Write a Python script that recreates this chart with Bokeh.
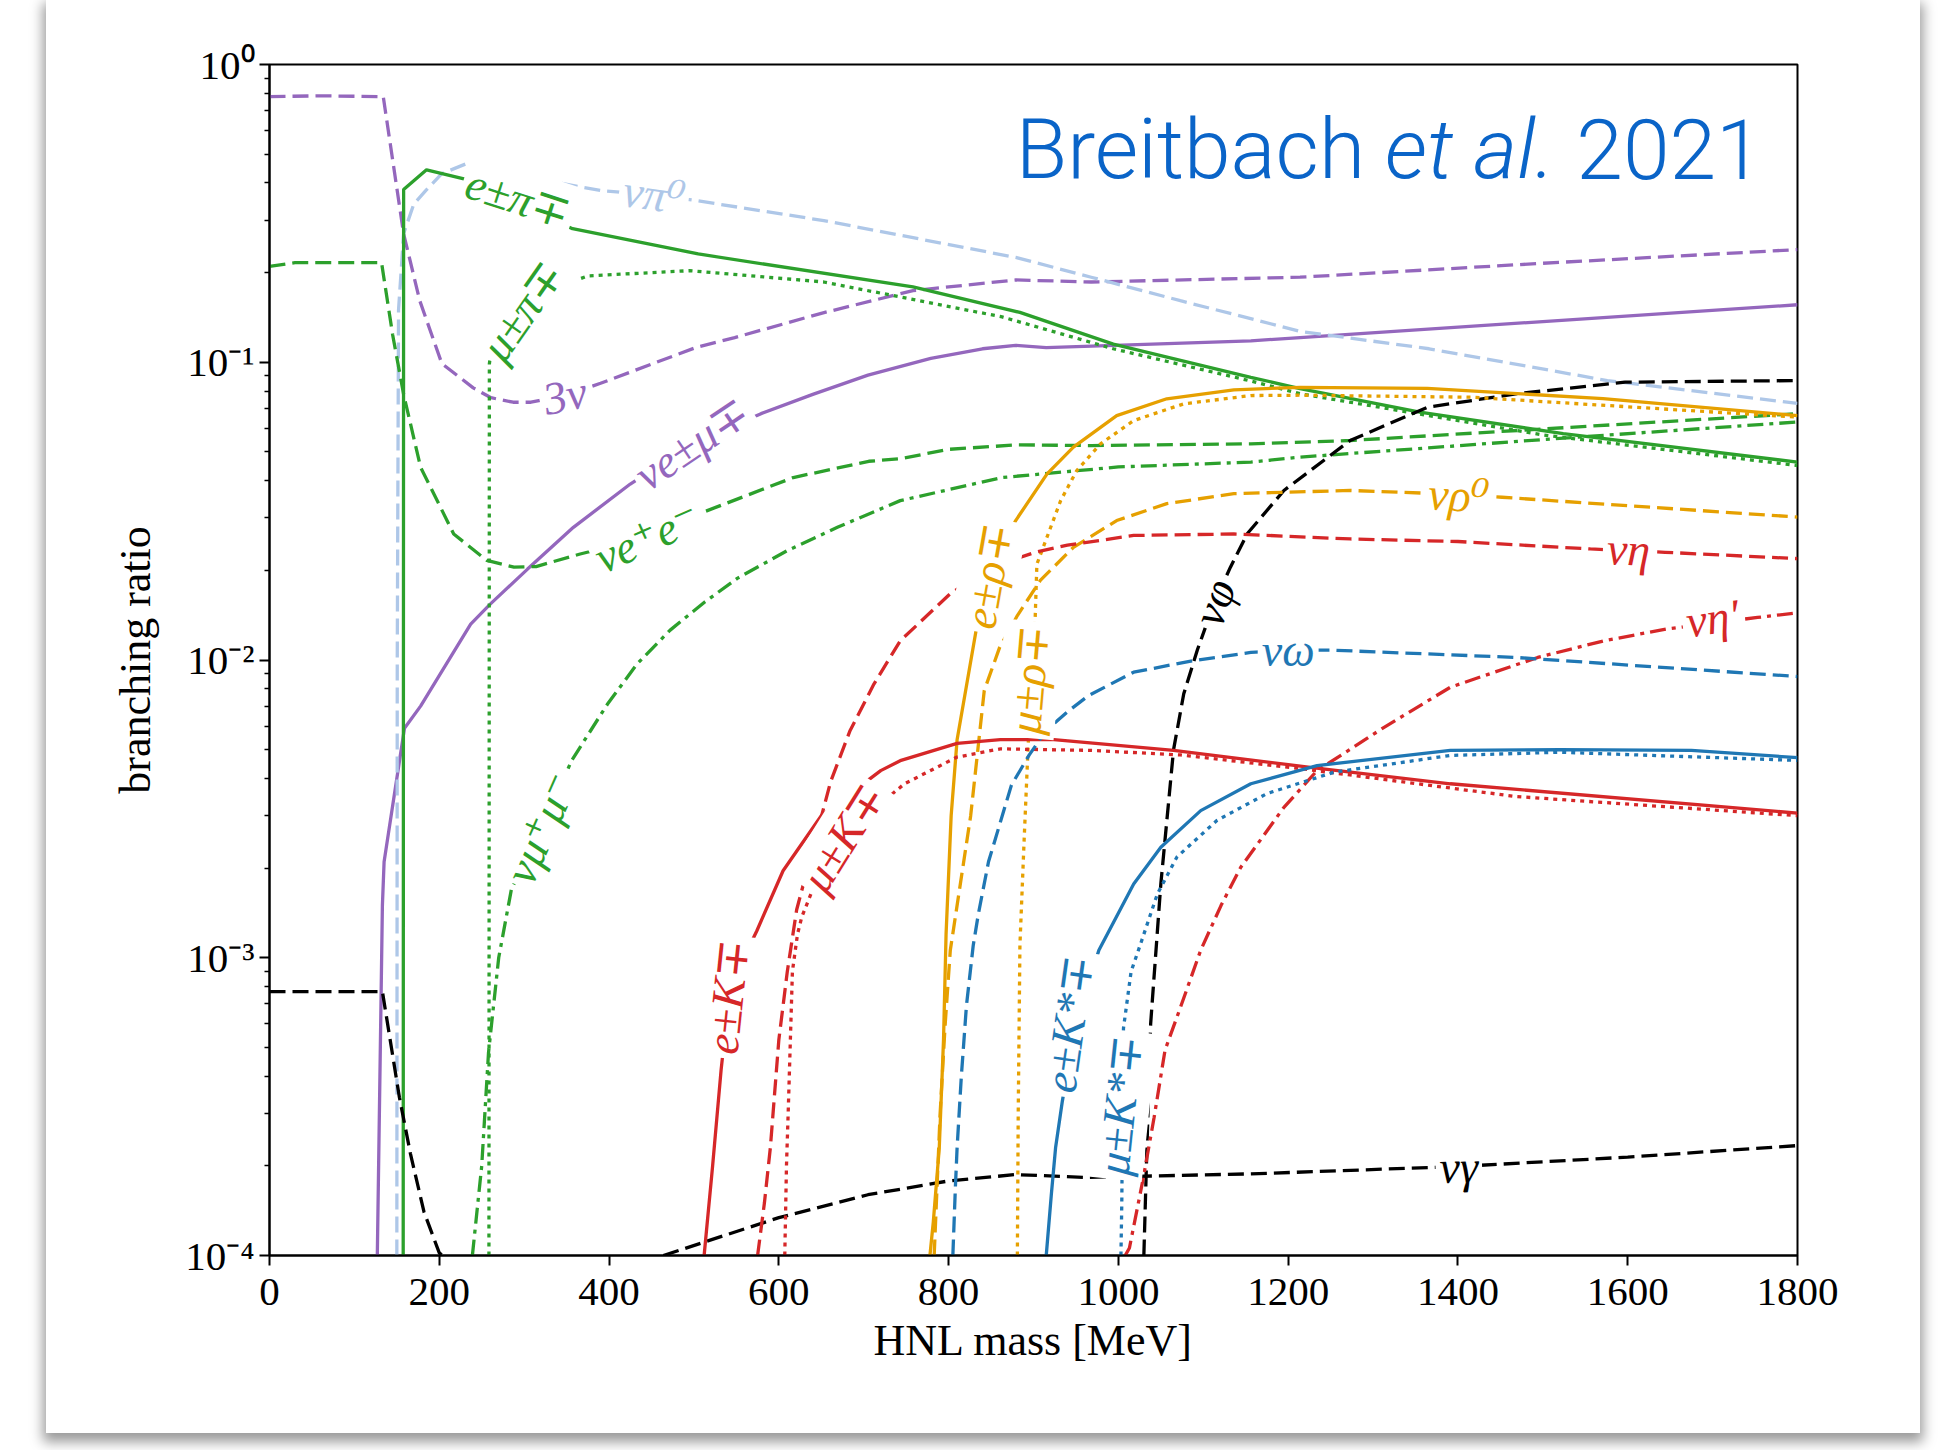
import math
from bokeh.plotting import figure
from bokeh.models import Label, FixedTicker, CustomJSTickFormatter, Range1d
from bokeh.embed import file_html
from bokeh.resources import INLINE

NAN = float("nan")

# ---------------- data (HNL mass [MeV], branching ratio) ----------------
x_3nu = [0, 60, 134, 158, 177, 203, 240, 261, 287, 308, 348, 390, 502, 548, 650, 758, 879, 968, 1214, 1500, 1800]
y_3nu = [0.78, 0.785, 0.78, 0.27, 0.161, 0.099, 0.082, 0.076, 0.0734, 0.0734, 0.0773, 0.085, 0.112, 0.121, 0.146, 0.174, 0.189, 0.186, 0.193, 0.215, 0.239]

x_emu = [127, 133, 135, 159, 178, 237, 260, 304, 358, 425, 498, 579, 640, 705, 779, 840, 879, 915, 1156, 1214, 1500, 1800]
y_emu = [1e-4, 0.0015, 0.0021, 0.0059, 0.0070, 0.0132, 0.0154, 0.0202, 0.0279, 0.039, 0.0533, 0.0672, 0.078, 0.0905, 0.103, 0.111, 0.114, 0.112, 0.118, 0.121, 0.137, 0.156]

x_epi = [157.5, 158, 185, 229, 293, 357, 505, 758, 884, 994, 1156, 1214, 1355, 1524, 1800]
y_epi = [1e-4, 0.38, 0.443, 0.413, 0.34, 0.281, 0.231, 0.179, 0.147, 0.115, 0.089, 0.0816, 0.068, 0.0576, 0.0462]

x_mupi = [258.5, 259, 262, 275, 298, 330, 375, 495, 653, 863, 994, 1156, 1214, 1500, 1800]
y_mupi = [1e-4, 0.0987, 0.115, 0.135, 0.149, 0.175, 0.195, 0.203, 0.186, 0.142, 0.111, 0.0865, 0.0784, 0.057, 0.045]

x_pi0 = [150, 150.5, 152, 158, 170, 184, 203, 234, 292, 391, 453, 503, 653, 879, 968, 1073, 1214, 1366, 1576, 1800]
y_pi0 = [1e-4, 0.01, 0.15, 0.27, 0.34, 0.377, 0.43, 0.467, 0.424, 0.377, 0.365, 0.349, 0.299, 0.225, 0.193, 0.161, 0.127, 0.111, 0.0868, 0.0727]

x_nuee = [0, 30, 132, 145, 158, 178, 217, 256, 288, 314, 366, 445, 500, 531, 617, 706, 743, 800, 881, 968, 1156, 1273, 1471, 1800]
y_nuee = [0.21, 0.216, 0.216, 0.124, 0.078, 0.0444, 0.0265, 0.0216, 0.0205, 0.0206, 0.0227, 0.0258, 0.0305, 0.033, 0.041, 0.0465, 0.0474, 0.051, 0.0528, 0.0525, 0.0532, 0.0546, 0.059, 0.0672]

x_numumu = [239, 250, 258, 270, 285, 320, 356, 398, 433, 472, 512, 551, 610, 669, 743, 863, 1000, 1156, 1214, 1500, 1800]
y_numumu = [1e-4, 0.0002, 0.00048, 0.001, 0.0017, 0.0027, 0.0046, 0.0071, 0.0097, 0.0126, 0.0156, 0.0188, 0.0233, 0.0279, 0.0343, 0.041, 0.0445, 0.0462, 0.048, 0.055, 0.063]

x_nugamma = [0, 133, 153, 166, 182, 200, 204, NAN, 464, 600, 705, 800, 879, 960, 1042, 1156, 1400, 1600, 1800]
y_nugamma = [0.00077, 0.00077, 0.00034, 0.00022, 0.00014, 0.000102, 1e-4, NAN, 1e-4, 0.000134, 0.00016, 0.000178, 0.000187, 0.000183, 0.000185, 0.000188, 0.000199, 0.000214, 0.000234]

x_nuphi = [1030, 1033, 1038, 1050, 1065, 1077, 1093, 1113, 1132, 1152, 1195, 1273, 1364, 1468, 1597, 1800]
y_nuphi = [1e-4, 0.0002, 0.0006, 0.00177, 0.005, 0.0077, 0.0108, 0.0156, 0.0205, 0.0266, 0.0371, 0.0546, 0.0706, 0.0783, 0.0857, 0.0868]

x_erho = [778, 782, 789, 794, 797, 803, 810, 832, 847, 879, 916, 947, 998, 1057, 1136, 1214, 1364, 1571, 1800]
y_erho = [1e-4, 0.00013, 0.00023, 0.00053, 0.0012, 0.003, 0.0054, 0.0124, 0.0192, 0.0294, 0.0422, 0.0519, 0.0662, 0.0754, 0.0808, 0.0824, 0.0817, 0.0755, 0.0662]

x_murho = [881, 882, 884, 889, 894, 902, 904, 916, 932, 951, 979, 1018, 1077, 1156, 1214, 1416, 1800]
y_murho = [1e-4, 0.0003, 0.0011, 0.0025, 0.0054, 0.0139, 0.021, 0.0259, 0.0343, 0.0433, 0.0532, 0.0637, 0.0725, 0.0773, 0.0775, 0.0763, 0.0654]

x_nurho = [783, 790, 796, 802, 826, 842, 860, 881, 908, 947, 998, 1057, 1136, 1273, 1401, 1452, 1800]
y_nurho = [1e-4, 0.0003, 0.0006, 0.00106, 0.003, 0.0079, 0.011, 0.0141, 0.0185, 0.0239, 0.0294, 0.0335, 0.0362, 0.0371, 0.036, 0.0352, 0.0302]

x_eK = [512, 522, 532, 540, 555, 574, 605, 650, 720, 743, 810, 861, 924, 1065, 1226, 1391, 1800]
y_eK = [1e-4, 0.0002, 0.00042, 0.00068, 0.00095, 0.00123, 0.00196, 0.003, 0.00425, 0.00459, 0.00525, 0.0054, 0.0054, 0.00497, 0.00436, 0.00384, 0.00306]

x_muK = [607, 609, 611, 616, 622, 627, 650, 676, 690, 748, 810, 861, 968, 1073, 1214, 1468, 1800]
y_muK = [1e-4, 0.0002, 0.0003, 0.0009, 0.0012, 0.00137, 0.002, 0.0025, 0.0028, 0.00384, 0.00472, 0.00503, 0.00497, 0.0048, 0.00432, 0.00348, 0.003]

x_nueta = [575, 583, 590, 600, 610, 621, 661, 684, 712, 743, 802, 850, 902, 940, 1018, 1136, 1273, 1400, 1556, 1601, 1644, 1800]
y_nueta = [1e-4, 0.00015, 0.00023, 0.00053, 0.0009, 0.00145, 0.0039, 0.0058, 0.0083, 0.0116, 0.0167, 0.0205, 0.023, 0.0243, 0.0262, 0.0265, 0.0255, 0.025, 0.0236, 0.0233, 0.023, 0.0219]

x_nuetap = [1008, 1013, 1029, 1042, 1055, 1073, 1097, 1121, 1144, 1195, 1234, 1313, 1391, 1494, 1572, 1645, 1700, 1753, 1800]
y_nuetap = [1e-4, 0.000106, 0.00018, 0.00029, 0.00049, 0.00068, 0.00106, 0.0015, 0.00201, 0.0032, 0.00425, 0.00594, 0.0081, 0.0102, 0.0116, 0.0127, 0.0133, 0.0139, 0.0144]

x_nuomega = [805, 808, 810, 815, 821, 829, 835, 847, 874, 895, 915, 940, 965, 1018, 1089, 1156, 1200, 1249, 1468, 1800]
y_nuomega = [1e-4, 0.00017, 0.00023, 0.0004, 0.00069, 0.0011, 0.0014, 0.0021, 0.0038, 0.0048, 0.0058, 0.0067, 0.0076, 0.0091, 0.00996, 0.0106, 0.0108, 0.0108, 0.0102, 0.0088]

x_eKs = [915, 921, 926, 934, 942, 950, 977, 1018, 1050, 1097, 1156, 1234, 1391, 1520, 1675, 1800]
y_eKs = [1e-4, 0.00016, 0.00023, 0.00033, 0.00045, 0.0006, 0.00106, 0.00177, 0.00235, 0.00312, 0.00384, 0.00442, 0.00497, 0.0050, 0.00497, 0.0047]

x_muKs = [1003, 1004, 1006, 1015, 1026, 1046, 1069, 1116, 1175, 1254, 1391, 1520, 1800]
y_muKs = [1e-4, 0.00015, 0.00058, 0.0009, 0.00111, 0.00164, 0.00218, 0.00289, 0.00356, 0.0042, 0.00478, 0.0049, 0.0046]

# inline curve labels: text, mass, branching ratio, angle [deg]
label_text = ["e±π∓", "νπ⁰", "μ±π∓", "3ν", "νe±μ∓", "νe⁺e⁻", "νμ⁺μ⁻", "e±K∓", "μ±K∓",
              "e±ρ∓", "μ±ρ∓", "νρ⁰", "νη", "νη′", "νω", "νφ", "νγ", "e±K*∓", "μ±K*∓"]
label_x = [293, 453, 298, 348, 498, 445, 320, 540, 676, 847, 895, 1401, 1601, 1700, 1200, 1113, 1401, 942, 1002]
label_y = [0.355, 0.365, 0.149, 0.0773, 0.0533, 0.0258, 0.00272, 0.00074, 0.00254, 0.0192, 0.0086, 0.0357,
           0.0235, 0.0138, 0.0108, 0.0156, 0.000198, 0.0006, 0.00032]
label_angle = [-18, -8, 55, 12, 34, 24, 66, 84, 58, 80, 85, -3, -2, 8, 0, 70, 1, 82, 84]

x_ticks = [0, 200, 400, 600, 800, 1000, 1200, 1400, 1600, 1800]
y_ticks = [1e-4, 1e-3, 1e-2, 1e-1, 1]

# ---------------- styles ----------------
PURPLE = "#9467bd"
GREEN = "#2ca02c"
LBLUE = "#aec7e8"
BLACK = "#000000"
ORANGE = "#e6a000"
RED = "#d62728"
BLUE = "#1f77b4"
DASH = {"solid": "solid", "dashed": "16 7", "dotted": "4 5", "dashdot": "16 6 4 6"}

series = [
    (x_3nu, y_3nu, PURPLE, "dashed"),
    (x_emu, y_emu, PURPLE, "solid"),
    (x_pi0, y_pi0, LBLUE, "dashed"),
    (x_epi, y_epi, GREEN, "solid"),
    (x_mupi, y_mupi, GREEN, "dotted"),
    (x_nuee, y_nuee, GREEN, "dashed"),
    (x_numumu, y_numumu, GREEN, "dashdot"),
    (x_nugamma, y_nugamma, BLACK, "dashed"),
    (x_nuphi, y_nuphi, BLACK, "dashed"),
    (x_erho, y_erho, ORANGE, "solid"),
    (x_murho, y_murho, ORANGE, "dotted"),
    (x_nurho, y_nurho, ORANGE, "dashed"),
    (x_eK, y_eK, RED, "solid"),
    (x_muK, y_muK, RED, "dotted"),
    (x_nueta, y_nueta, RED, "dashed"),
    (x_nuetap, y_nuetap, RED, "dashdot"),
    (x_nuomega, y_nuomega, BLUE, "dashed"),
    (x_eKs, y_eKs, BLUE, "solid"),
    (x_muKs, y_muKs, BLUE, "dotted"),
]
label_color = [GREEN, LBLUE, GREEN, PURPLE, PURPLE, GREEN, GREEN, RED, RED,
               ORANGE, ORANGE, ORANGE, RED, RED, BLUE, BLACK, BLACK, BLUE, BLUE]

# card (white page with drop shadow) offset inside the window
p = figure(width=1874, height=1433, x_range=Range1d(0, 1800), y_range=Range1d(1e-4, 1),
           y_axis_type="log", output_backend="svg", toolbar_location=None,
           min_border_left=223, min_border_right=123, min_border_top=64, min_border_bottom=178)
p.styles = {"margin-left": "46px", "box-shadow": "0px 6px 12px 3px rgba(0,0,0,0.40)"}
p.background_fill_color = "white"
p.border_fill_color = "white"
p.grid.visible = False
p.outline_line_color = "black"
p.outline_line_width = 2
p.outline_line_alpha = 1

p.xaxis.ticker = FixedTicker(ticks=x_ticks, minor_ticks=[])
p.yaxis.ticker = FixedTicker(ticks=y_ticks,
                             minor_ticks=[m * 10.0 ** e for e in range(-4, 0) for m in range(2, 10)])
p.yaxis.formatter = CustomJSTickFormatter(code="""
const e = Math.round(Math.log10(tick));
const sup = {"-": "\u207b", "0": "\u2070", "1": "\u00b9", "2": "\u00b2", "3": "\u00b3", "4": "\u2074"};
return "10" + String(e).split("").map(c => sup[c]).join("");
""")
for ax in (p.xaxis[0], p.yaxis[0]):
    ax.axis_line_width = 2
    ax.axis_line_color = "black"
    ax.major_tick_line_width = 2
    ax.major_tick_out = 10
    ax.major_tick_in = 0
    ax.minor_tick_out = 5
    ax.minor_tick_in = 0
    ax.minor_tick_line_width = 1.5
    ax.major_label_text_font = "Liberation Serif"
    ax.major_label_text_font_size = "41px"
    ax.major_label_text_color = "black"
    ax.axis_label_text_font = "Liberation Serif"
    ax.axis_label_text_font_style = "normal"
    ax.axis_label_text_font_size = "44px"
    ax.axis_label_text_color = "black"
p.xaxis.minor_tick_line_color = None
p.xaxis.major_label_standoff = 13
p.xaxis.axis_label = "HNL mass [MeV]"
p.yaxis.axis_label = "branching ratio"
p.xaxis.axis_label_standoff = 8
p.yaxis.axis_label_standoff = 22

for xs, ys, color, dash in series:
    p.line(xs, ys, line_color=color, line_width=3.3, line_dash=DASH[dash])

LABEL_FONT = "Liberation Serif, DejaVu Serif"
for t, lx, ly, ang, col in zip(label_text, label_x, label_y, label_angle, label_color):
    p.add_layout(Label(x=lx, y=ly, text=t, angle=math.radians(ang), text_align="center",
                       text_baseline="middle", text_font=LABEL_FONT, text_font_style="italic",
                       text_font_size="46px", text_color=col, background_fill_color="white", padding=4))

TITLE_BLUE = "#0a64c8"
for t, tx, align, style in [("Breitbach", 879, "left", "normal"), ("et al.", 1314, "left", "italic"),
                            ("2021", 1759, "right", "normal")]:
    p.add_layout(Label(x=tx, y=0.52, text=t, text_align=align, text_baseline="alphabetic",
                       text_font="Roboto Light, Roboto", text_font_style=style, text_font_size="84px",
                       text_color=TITLE_BLUE))

open("out.html", "w").write(file_html(p, INLINE))
